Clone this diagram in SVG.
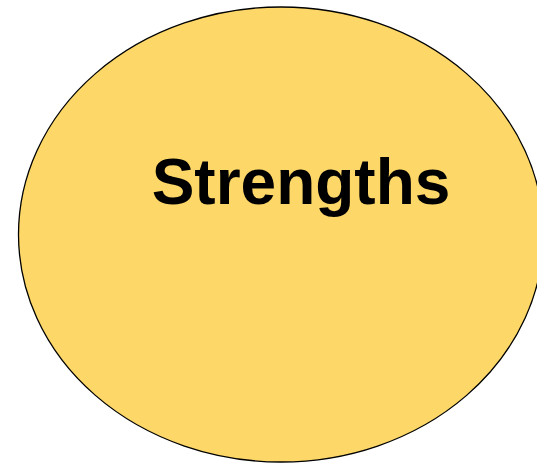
<svg xmlns="http://www.w3.org/2000/svg" width="537" height="463" viewBox="0 0 537 463">
<style>
.node{fill:#FDD767;stroke:#000;stroke-width:1.3}
.lbl{font-family:"Liberation Sans",Arial,sans-serif;font-weight:bold;font-size:64px;fill:#000}
</style>
<rect width="537" height="463" fill="#fff"/>
<g id="strengths">
<ellipse class="node" cx="281" cy="234.5" rx="262.5" ry="227.5"/>
<text class="lbl" x="301" y="204" text-anchor="middle">Strengths</text>
</g>
<g id="connectors"/>
</svg>
